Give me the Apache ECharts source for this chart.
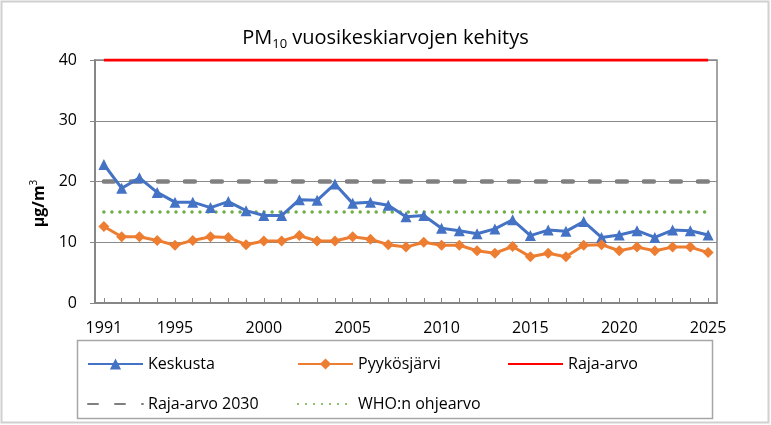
<!DOCTYPE html>
<html>
<head>
<meta charset="utf-8">
<script src="https://cdn.jsdelivr.net/npm/echarts@6/dist/echarts.min.js"></script>
<style>html,body{margin:0;padding:0;background:#fff;}#c{width:771px;height:425px;}</style>
</head>
<body>
<div id="c"></div>
<script>
const years = ['1991','1992','1993','1994','1995','1996','1997','1998','1999','2000','2001','2002','2003','2004','2005','2006','2007','2008','2009','2010','2011','2012','2013','2014','2015','2016','2017','2018','2019','2020','2021','2022','2023','2024','2025'];
const keskusta = [22.8,18.9,20.6,18.2,16.6,16.6,15.7,16.7,15.2,14.4,14.4,17.0,16.9,19.6,16.4,16.6,16.1,14.2,14.4,12.3,11.9,11.4,12.2,13.7,11.1,12.0,11.8,13.4,10.8,11.2,11.9,10.8,12.0,11.9,11.2];
const pyykosjarvi = [12.6,10.9,10.9,10.3,9.5,10.3,10.9,10.8,9.6,10.2,10.2,11.1,10.2,10.2,10.9,10.5,9.6,9.2,10.0,9.5,9.5,8.6,8.2,9.3,7.6,8.2,7.6,9.5,9.6,8.6,9.2,8.6,9.2,9.2,8.3];
const rajaArvo = 40;
const rajaArvo2030 = 20;
const whoOhjearvo = 15;
const yTicks = [0, 10, 20, 30, 40];
const xLabelYears = ['1991','1995','2000','2005','2010','2015','2020','2025'];

const FONT = 'Open Sans';
const chart = echarts.init(document.getElementById('c'));
const legendBase = {
  orient: 'horizontal', itemWidth: 55, itemHeight: 14, itemGap: 10,
  textStyle: {fontFamily: FONT, fontSize: 16, color: '#000'}, padding: 0, selectedMode: false
};
const noSym = {itemStyle: {opacity: 0}};
chart.setOption({
  backgroundColor: '#fff',
  animation: false,
  title: {
    text: '{a|PM}{s|10}{a| vuosikeskiarvojen kehitys}',
    left: 'center', top: 20,
    textStyle: {
      fontWeight: 'normal',
      rich: {
        a: {fontFamily: FONT, fontSize: 20, fontWeight: 'normal', color: '#000', lineHeight: 26, verticalAlign: 'middle'},
        s: {fontFamily: FONT, fontSize: 13, fontWeight: 'normal', color: '#000', lineHeight: 26, verticalAlign: 'bottom'}
      }
    }
  },
  grid: {left: 95, right: 54, top: 60, bottom: 122, show: true, borderColor: '#868686', borderWidth: 1.5},
  xAxis: {
    type: 'category', data: years, boundaryGap: true,
    axisLine: {lineStyle: {color: '#868686', width: 2}},
    axisTick: {show: true, inside: true, alignWithLabel: true, interval: 0, length: 5, lineStyle: {color: '#868686'}},
    axisLabel: {
      interval: (i, v) => xLabelYears.indexOf(v) >= 0,
      fontFamily: FONT, fontSize: 16, color: '#000', margin: 17
    },
    splitLine: {show: false}
  },
  yAxis: {
    type: 'value', min: yTicks[0], max: yTicks[yTicks.length-1], interval: 10,
    name: '{a|µg/m}{p|3}', nameLocation: 'middle', nameRotate: 90, nameGap: 44,
    nameTextStyle: {
      padding: [0, 44, 0, 0],
      rich: {
        a: {fontFamily: FONT, fontSize: 16, fontWeight: 'bold', color: '#000', lineHeight: 22, verticalAlign: 'middle'},
        p: {fontFamily: FONT, fontSize: 10, color: '#000', lineHeight: 22, verticalAlign: 'top'}
      }
    },
    axisLine: {show: true, lineStyle: {color: '#868686', width: 2}},
    axisTick: {show: true, inside: false, length: 5, lineStyle: {color: '#868686'}},
    axisLabel: {fontFamily: FONT, fontSize: 16, color: '#000', margin: 18},
    splitLine: {show: true, lineStyle: {color: '#898989', width: 1}}
  },
  legend: [
    Object.assign({}, legendBase, {data: ['Keskusta'], left: 87, top: 356}),
    Object.assign({}, legendBase, {data: ['Pyykösjärvi'], left: 297, top: 356}),
    Object.assign({}, legendBase, noSym, {data: ['Raja-arvo'], left: 507, top: 356}),
    Object.assign({}, legendBase, noSym, {data: ['Raja-arvo 2030'], left: 87, top: 396}),
    Object.assign({}, legendBase, noSym, {data: ['WHO:n ohjearvo'], left: 297, top: 396})
  ],
  graphic: [
    {type: 'rect', shape: {x: 77.5, y: 340.5, width: 635, height: 78}, style: {fill: 'none', stroke: '#a6a6a6', lineWidth: 1.5}, silent: true},
    {type: 'rect', shape: {x: 1.5, y: 1.5, width: 767, height: 421}, style: {fill: 'none', stroke: '#d0d0d0', lineWidth: 2}, silent: true}
  ],
  series: [
    {
      name: 'Keskusta', type: 'line', data: keskusta, z: 5,
      symbol: 'triangle', symbolSize: 11,
      lineStyle: {color: '#4472C4', width: 3}, itemStyle: {color: '#4472C4'}
    },
    {
      name: 'Pyykösjärvi', type: 'line', data: pyykosjarvi, z: 5,
      symbol: 'diamond', symbolSize: 11,
      lineStyle: {color: '#ED7D31', width: 3}, itemStyle: {color: '#ED7D31'}
    },
    {
      name: 'Raja-arvo', type: 'line', data: years.map(() => rajaArvo), z: 4,
      symbol: 'none', lineStyle: {color: '#FF0000', width: 3}, itemStyle: {color: '#FF0000'}
    },
    {
      name: 'Raja-arvo 2030', type: 'line', data: years.map(() => rajaArvo2030), z: 3,
      symbol: 'none', lineStyle: {color: '#808080', width: 4.5, type: [10, 17], cap: 'round'}, itemStyle: {color: '#808080'}
    },
    {
      name: 'WHO:n ohjearvo', type: 'line', data: years.map(() => whoOhjearvo), z: 3,
      symbol: 'none', lineStyle: {color: '#70AD47', width: 3.5, type: [0.01, 8], cap: 'round'}, itemStyle: {color: '#70AD47'}
    }
  ]
});
</script>
</body>
</html>
